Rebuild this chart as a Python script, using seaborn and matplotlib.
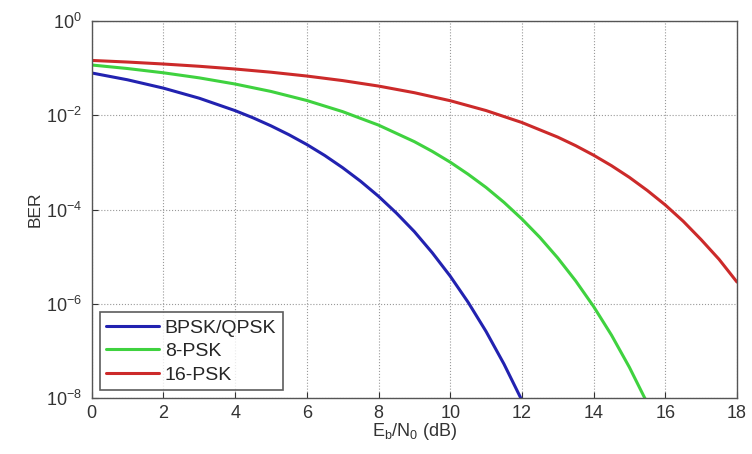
import matplotlib
matplotlib.use("Agg")
import matplotlib.pyplot as plt
import numpy as np
import pandas as pd
import seaborn as sns

# Values (Eb/N0 in dB, BER)
snr_bpsk = [0, 1, 2, 3, 4, 4.5, 5, 5.5, 6, 6.5, 7, 7.5, 8, 8.5, 9, 9.5,
            10, 10.5, 11, 11.5, 12]
ber_bpsk = [0.0786, 0.0563, 0.0375, 0.0229, 0.0125, 0.0088, 0.00595,
            0.00386, 0.00239, 1.40e-3, 7.7e-4, 3.98e-4, 1.91e-4, 8.4e-5,
            3.4e-5, 1.21e-5, 3.87e-6, 1.08e-6, 2.6e-7, 5.3e-8, 9.0e-9]

snr_8psk = [0, 1, 2, 3, 4, 5, 6, 7, 8, 9, 9.5, 10, 10.5, 11, 11.5, 12,
            12.5, 13, 13.5, 14, 14.5, 15, 15.5, 16]
ber_8psk = [0.116, 0.0976, 0.0793, 0.0619, 0.0458, 0.0319, 0.0205, 0.0119,
            0.00617, 0.00275, 1.71e-3, 0.00101, 5.6e-4, 2.94e-4, 1.42e-4,
            6.3e-5, 2.57e-5, 9.4e-6, 3.07e-6, 8.8e-7, 2.17e-7, 4.5e-8,
            7.8e-9, 1.1e-9]

snr_16psk = [0, 1, 2, 3, 4, 5, 6, 7, 8, 9, 10, 11, 12, 13, 13.5, 14, 14.5,
             15, 15.5, 16, 16.5, 17, 17.5, 18]
ber_16psk = [0.145, 0.134, 0.1218, 0.109, 0.0954, 0.0816, 0.0677, 0.0542,
             0.0415, 0.0300, 0.0203, 0.01255, 0.0070, 0.00343, 2.26e-3,
             0.00142, 8.5e-4, 4.8e-4, 2.53e-4, 1.25e-4, 5.65e-5, 2.3e-5,
             8.8e-6, 2.9e-6]

labels = ["BPSK/QPSK", "8-PSK", "16-PSK"]
colors = ["#2222b0", "#3fd23f", "#cc2a2a"]

df = pd.concat([
    pd.DataFrame({"snr": snr_bpsk, "ber": ber_bpsk, "mod": labels[0]}),
    pd.DataFrame({"snr": snr_8psk, "ber": ber_8psk, "mod": labels[1]}),
    pd.DataFrame({"snr": snr_16psk, "ber": ber_16psk, "mod": labels[2]}),
])

sns.set_theme(style="white")
plt.rcParams["font.family"] = ["Liberation Sans", "DejaVu Sans"]
plt.rcParams["mathtext.fontset"] = "custom"
plt.rcParams["mathtext.rm"] = "Liberation Sans"

fig = plt.figure(figsize=(7.52, 4.54), dpi=100)
ax = fig.add_axes([0.122, 0.123, 0.858, 0.831])

sns.lineplot(data=df, x="snr", y="ber", hue="mod", hue_order=labels,
             palette=colors, linewidth=2.2, ax=ax)

ax.set_yscale("log")
ax.set_xlim(0, 18)
ax.set_ylim(1e-8, 1e0)
ax.set_xticks(range(0, 19, 2))
ax.set_yticks([1e0, 1e-2, 1e-4, 1e-6, 1e-8])
ax.set_yticklabels([r"$10^{0}$", r"$10^{-2}$", r"$10^{-4}$", r"$10^{-6}$",
                    r"$10^{-8}$"])
ax.minorticks_off()
ax.tick_params(direction="in", length=4, width=0.8, labelsize=13,
               colors="#333333", top=False, right=False, bottom=True, left=True)
ax.tick_params(axis="x", pad=5)
ax.tick_params(axis="y", pad=7)
ax.grid(True, linestyle=":", linewidth=0.8, color="#999999")
for s in ax.spines.values():
    s.set_color("#555555")
    s.set_linewidth(1.0)

ax.set_xlabel(r"E$_\mathrm{b}$/N$_\mathrm{0}$ (dB)", fontsize=13,
              color="#333333", labelpad=-1)
ax.set_ylabel("BER", fontsize=12.5, color="#333333", labelpad=2)

leg = ax.legend(loc="lower left", fontsize=14, frameon=True, fancybox=False,
                borderaxespad=0.4, handlelength=2.7, labelspacing=0.3,
                borderpad=0.35, handletextpad=0.3)
leg.get_frame().set_edgecolor("#333333")
leg.get_frame().set_linewidth(1.2)
for line in leg.get_lines():
    line.set_linewidth(2.2)

fig.savefig("out.png", dpi=100)
